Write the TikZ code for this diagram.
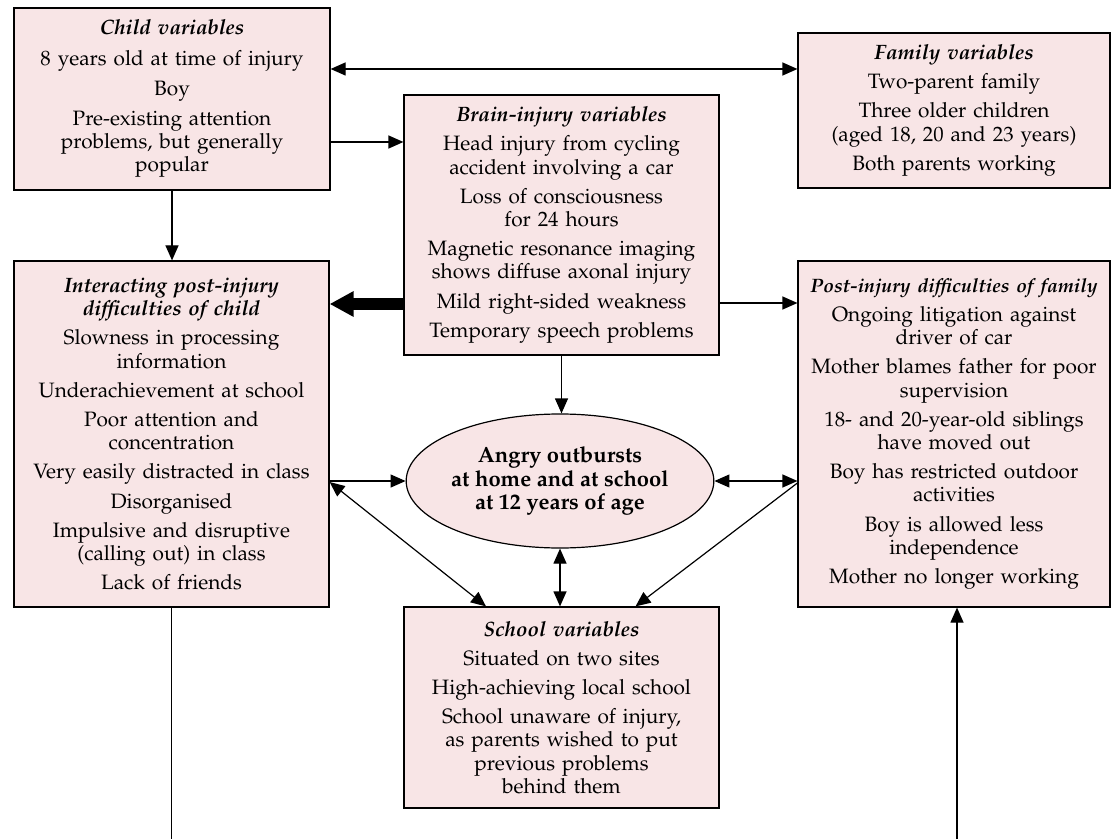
\documentclass[tikz,border=0pt]{standalone}
\usepackage[T1]{fontenc}
\usepackage{mathpazo}
\usetikzlibrary{arrows.meta,shapes.geometric}
\definecolor{boxpink}{RGB}{248,229,230}
\newcommand{\boxhead}[1]{\textbf{\textit{#1}}}

\begin{document}
\begin{tikzpicture}[x=0.5pt,y=-0.5pt,
  font=\fontsize{10.4}{11.6}\selectfont,
  box/.style={draw,line width=0.6pt,fill=boxpink,rectangle,inner sep=0pt,
    align=center,text width=154pt},
  outbox/.style={draw,line width=0.6pt,fill=boxpink,ellipse,inner sep=0pt,
    minimum width=148pt,minimum height=67pt,align=center,font=\fontsize{11}{11.6}\selectfont\bfseries},
  arr/.style={line width=0.6pt,-{Triangle[length=7.5pt,width=6.5pt]}},
  biarr/.style={line width=0.6pt,{Triangle[length=7.5pt,width=6.5pt]}-{Triangle[length=7.5pt,width=6.5pt]}},
  heavy/.style={line width=6pt,-{Triangle[length=12pt,width=12pt]}}]

  \useasboundingbox (0,0) rectangle (1111,839);

%draw boxes
  \node[box,minimum width=158pt,minimum height=91pt] (child) at (172,99)
    {\boxhead{Child variables}\\[3.5pt]
     8 years old at time of injury\\[3.5pt]
     Boy\\[3.5pt]
     Pre-existing attention\\ problems, but generally\\ popular};
  \node[box,minimum width=156pt,minimum height=77.5pt] (family) at (954,110.5)
    {\boxhead{Family variables}\\[3pt]
     Two-parent family\\[3pt]
     Three older children\\ (aged 18, 20 and 23 years)\\[3pt]
     Both parents working};
  \node[box,minimum width=157.5pt,minimum height=130pt] (brain) at (561.5,225)
    {\boxhead{Brain-injury variables}\\[3pt]
     Head injury from cycling\\ accident involving a car\\[3pt]
     Loss of consciousness\\ for 24 hours\\[3pt]
     Magnetic resonance imaging\\ shows diffuse axonal injury\\[3pt]
     Mild right-sided weakness\\[3pt]
     Temporary speech problems};
  \node[box,minimum width=157.5pt,minimum height=173pt] (inter) at (171.5,434)
    {\boxhead{Interacting post-injury}\\ \boxhead{difficulties of child}\\[3pt]
     Slowness in processing\\ information\\[3pt]
     Underachievement at school\\[3pt]
     Poor attention and\\ concentration\\[3pt]
     Very easily distracted in class\\[3pt]
     Disorganised\\[3pt]
     Impulsive and disruptive\\ (calling out) in class\\[3pt]
     Lack of friends};
  \node[box,minimum width=156pt,minimum height=173pt] (postfam) at (954,434)
    {{\fontsize{9.7}{11.6}\selectfont\boxhead{Post-injury difficulties of family}}\\[3pt]
     Ongoing litigation against\\ driver of car\\[3pt]
     Mother blames father for poor\\ supervision\\[3pt]
     18- and 20-year-old siblings\\ have moved out\\[3pt]
     Boy has restricted outdoor\\ activities\\[3pt]
     Boy is allowed less\\ independence\\[3pt]
     Mother no longer working};
  \node[outbox] (outburst) at (560,481)
    {Angry outbursts\\ at home and at school\\ at 12 years of age};
  \node[box,minimum width=157.5pt,minimum height=100.5pt] (school) at (561.5,707.5)
    {\boxhead{School variables}\\[3pt]
     Situated on two sites\\[3pt]
     High-achieving local school\\[3pt]
     School unaware of injury,\\ as parents wished to put\\ previous problems\\ behind them};

%loose ends at the bottom
  \coordinate (leftend) at (172,839);
  \coordinate (rightend) at (957,839);

%draw connectors
  \draw[biarr] ([yshift=15pt]child.east) -- ([yshift=15pt]child.east -| family.west);
  \draw[arr] ([yshift=-21.5pt]child.east) -- ([yshift=-21.5pt]child.east -| brain.west);
  \draw[arr] (child.south) -- (child.south |- inter.north);
  \draw[heavy] ([yshift=-39.5pt]brain.west) -- ([yshift=-39.5pt]brain.west -| inter.east);
  \draw[arr] ([yshift=-39pt]brain.east) -- ([yshift=-39pt]brain.east -| postfam.west);
  \draw[arr] (brain.south) -- (brain.south |- outburst.north);
  \draw[arr] (inter.east |- outburst.west) -- (outburst.west);
  \draw[biarr] (outburst.east) -- (outburst.east -| postfam.west);
  \draw[biarr] ([yshift=-24pt]inter.east) -- ([xshift=-37.75pt]school.north);
  \draw[arr] ([yshift=-24.5pt]postfam.west) -- ([xshift=37pt]school.north);
  \draw[biarr] (outburst.south) -- (outburst.south |- school.north);
  \draw[line width=0.6pt] (inter.south) -- (inter.south |- leftend);
  \draw[arr] (rightend) -- (rightend |- postfam.south);

\end{tikzpicture}
\end{document}
